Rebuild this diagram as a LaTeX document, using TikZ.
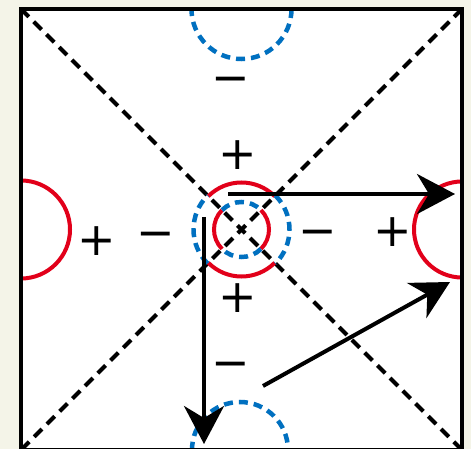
\documentclass[tikz,border=0pt]{standalone}
\usepackage{fontspec}
\newfontfamily\signfont{DejaVu Sans}
\usetikzlibrary{arrows.meta}
\definecolor{cream}{RGB}{244,244,232}
\definecolor{poscol}{RGB}{226,0,26}
\definecolor{negcol}{RGB}{0,112,192}
\begin{document}
\begin{tikzpicture}[x=1pt, y=-1pt,
    sign/.style={font=\signfont\fontsize{46}{46}\selectfont, inner sep=0pt},
    posline/.style={poscol, line width=4pt},
    negline/.style={negcol, line width=4.5pt, dash pattern=on 9pt off 6pt},
    diag/.style={black, line width=4pt, dash pattern=on 11pt off 7pt},
    flow/.style={-{Stealth[length=38pt, width=40pt, inset=12pt]}, line width=4pt}]
  \useasboundingbox (0,0) rectangle (471,449);
  \clip (0,0) rectangle (471,449);
  \fill[cream] (0,0) rectangle (471,449);
  % corners of the box and its centre
  \coordinate (TL) at (21,9);
  \coordinate (TR) at (462,9);
  \coordinate (BL) at (21,450);
  \coordinate (BR) at (462,450);
  \coordinate (C) at (241.5,229.5);
  \fill[white] (TL) rectangle (BR);
  \draw[diag] (TL) -- (BR);
  \draw[diag] (TR) -- (BL);
  % half circles on the edges
  \begin{scope}
    \clip (TL) rectangle (BR);
    \draw[negline] (241.5,9) circle[radius=50];
    \draw[negline] (240,450) circle[radius=48];
    \draw[posline] (21,229.5) circle[radius=49];
    \draw[posline] (462,229.5) circle[radius=48];
  \end{scope}
  % centre rings
  \draw[posline] (C) ++(45:47) arc[start angle=45, end angle=135, radius=47];
  \draw[posline] (C) ++(225:47) arc[start angle=225, end angle=315, radius=47];
  \draw[negline] (C) ++(135:48) arc[start angle=135, end angle=225, radius=48];
  \draw[negline] (C) ++(-45:48) arc[start angle=-45, end angle=45, radius=48];
  \draw[posline] (C) ++(135:27.5) arc[start angle=135, end angle=225, radius=27.5];
  \draw[posline] (C) ++(-45:27.5) arc[start angle=-45, end angle=45, radius=27.5];
  \draw[negline] (C) ++(45:27.5) arc[start angle=45, end angle=135, radius=27.5];
  \draw[negline] (C) ++(225:27.5) arc[start angle=225, end angle=315, radius=27.5];
  \draw[black, line width=4.5pt] (TL) rectangle (BR);
  % signs
  \node[sign] (mTop) at (231,85) {−};
  \node[sign] (pTop) at (238,155) {+};
  \node[sign] (pLeft) at (97,241) {+};
  \node[sign] (mLeft) at (156,240) {−};
  \node[sign] (mRight) at (318,238) {−};
  \node[sign] (pRight) at (393,232) {+};
  \node[sign] (pBottom) at (238,298) {+};
  \node[sign] (mBottom) at (231,370) {−};
  % arrows
  \coordinate (h0) at (228,194);
  \coordinate (h1) at (455,194);
  \coordinate (v0) at (204,217);
  \coordinate (v1) at (204,444);
  \coordinate (d0) at (263,386);
  \coordinate (d1) at (450,282);
  \draw[flow] (h0) -- (h1);
  \draw[flow] (v0) -- (v1);
  \draw[flow] (d0) -- (d1);
\end{tikzpicture}
\end{document}
